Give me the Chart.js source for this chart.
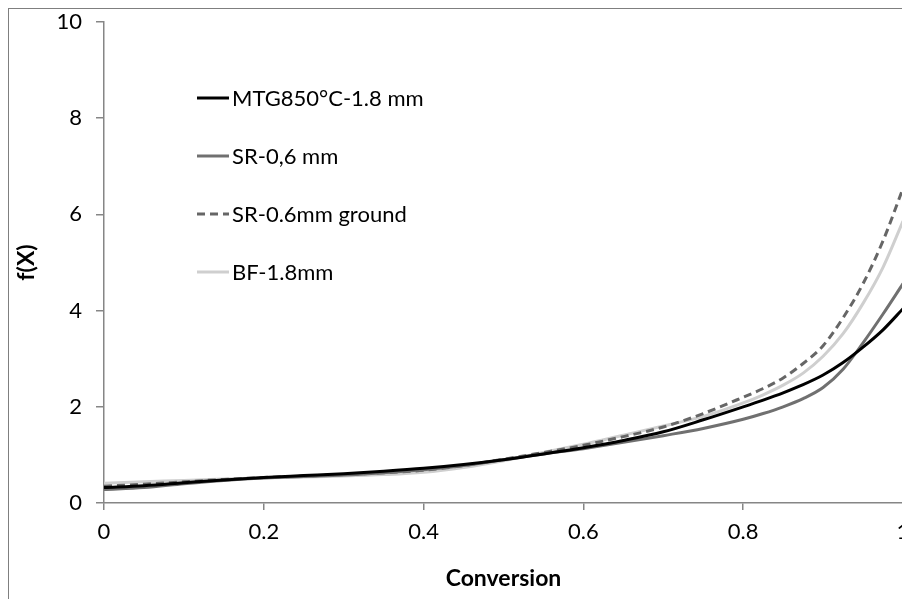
<!DOCTYPE html>
<html>
<head>
<meta charset="utf-8">
<script src="https://cdn.jsdelivr.net/npm/chart.js@4/dist/chart.umd.min.js"></script>
<style>
  html, body { margin: 0; padding: 0; background: #fff; overflow: hidden; width: 902px; height: 599px; }
  #frame { position: absolute; left: 8px; top: 8px; width: 1000px; height: 700px; border: 1px solid #7f7f7f; box-sizing: border-box; }
  #wrap { position: absolute; left: 0; top: 0; width: 940px; height: 599px; }
</style>
</head>
<body>
<div id="frame"></div>
<div id="wrap"><canvas id="chart"></canvas></div>
<script>
const conversion = [0, 0.05, 0.1, 0.15, 0.2, 0.25, 0.3, 0.35, 0.4, 0.45, 0.5, 0.55, 0.6, 0.65, 0.7, 0.75, 0.8, 0.825, 0.85, 0.875, 0.9, 0.925, 0.95, 0.975, 1.0];
const mtg850 = [0.32, 0.36, 0.42, 0.48, 0.53, 0.57, 0.61, 0.66, 0.72, 0.80, 0.90, 1.02, 1.15, 1.30, 1.48, 1.73, 2.00, 2.14, 2.29, 2.46, 2.66, 2.92, 3.24, 3.60, 4.04];
const sr06 = [0.28, 0.32, 0.40, 0.47, 0.52, 0.55, 0.58, 0.63, 0.69, 0.78, 0.90, 1.02, 1.13, 1.26, 1.40, 1.55, 1.74, 1.86, 2.00, 2.17, 2.40, 2.78, 3.33, 3.93, 4.56];
const sr06ground = [0.35, 0.39, 0.44, 0.49, 0.53, 0.56, 0.59, 0.63, 0.68, 0.78, 0.91, 1.05, 1.20, 1.38, 1.58, 1.86, 2.20, 2.38, 2.60, 2.90, 3.27, 3.85, 4.56, 5.45, 6.54];
const bf18 = [0.41, 0.44, 0.47, 0.50, 0.52, 0.54, 0.56, 0.59, 0.64, 0.74, 0.88, 1.05, 1.22, 1.41, 1.60, 1.80, 2.08, 2.25, 2.45, 2.70, 3.05, 3.52, 4.15, 4.90, 5.86];

const seriesNames = ["MTG850°C-1.8 mm", "SR-0,6 mm", "SR-0.6mm ground", "BF-1.8mm"];
const xTicks = [0, 0.2, 0.4, 0.6, 0.8, 1];
const yTicks = [0, 2, 4, 6, 8, 10];

const FONT = "Lato, 'Open Sans', sans-serif";
const toPoints = ys => conversion.map((x, i) => ({ x: x, y: ys[i] }));

const series = [
  { label: seriesNames[0], data: toPoints(mtg850), borderColor: "#000000", borderDash: [] },
  { label: seriesNames[1], data: toPoints(sr06), borderColor: "#707070", borderDash: [] },
  { label: seriesNames[2], data: toPoints(sr06ground), borderColor: "#666666", borderDash: [8, 5] },
  { label: seriesNames[3], data: toPoints(bf18), borderColor: "#cfcfcf", borderDash: [] }
];

// legend drawn inside the plot, stacked
const innerLegend = {
  id: "innerLegend",
  afterDraw(chart) {
    const ctx = chart.ctx;
    const x0 = chart.chartArea.left + 93;
    ctx.save();
    ctx.font = "22px " + FONT;
    ctx.textBaseline = "middle";
    ctx.fillStyle = "#000";
    chart.data.datasets.forEach((ds, i) => {
      const y = 98 + i * 58;
      ctx.beginPath();
      ctx.strokeStyle = ds.borderColor;
      ctx.lineWidth = 3;
      ctx.setLineDash(ds.borderDash);
      ctx.moveTo(x0, y);
      ctx.lineTo(x0 + 32, y);
      ctx.stroke();
      ctx.setLineDash([]);
      ctx.fillText(ds.label, x0 + 35, y + 1);
    });
    ctx.restore();
  }
};

new Chart(document.getElementById("chart"), {
  type: "line",
  data: {
    datasets: series.map(s => ({
      label: s.label,
      data: s.data,
      borderColor: s.borderColor,
      borderDash: s.borderDash,
      borderWidth: 3,
      pointRadius: 0,
      cubicInterpolationMode: "monotone",
      fill: false
    }))
  },
  options: {
    responsive: true,
    maintainAspectRatio: false,
    animation: false,
    layout: { padding: { left: 0, top: 22, right: 37, bottom: 0 } },
    plugins: { legend: { display: false }, tooltip: { enabled: false } },
    scales: {
      x: {
        type: "linear",
        min: 0,
        max: 1,
        afterBuildTicks: s => { s.ticks = xTicks.map(v => ({ value: v })); },
        afterFit: s => { s.height = 96; },
        border: { color: "#868686", width: 1.5 },
        grid: { drawOnChartArea: false, drawTicks: true, tickLength: 7, color: "#868686", lineWidth: 1.5 },
        ticks: { color: "#000", font: { family: FONT, size: 22 }, padding: 9, maxRotation: 0,
                 callback: v => String(v) },
        title: { display: true, text: "Conversion", color: "#000",
                 font: { family: FONT, size: 23, weight: "bold" }, padding: { bottom: 7 } }
      },
      y: {
        type: "linear",
        min: 0,
        max: 10,
        afterBuildTicks: s => { s.ticks = yTicks.map(v => ({ value: v })); },
        afterFit: s => { s.width = 104; s.paddingTop = 0; s.paddingBottom = 0; },
        border: { color: "#868686", width: 1.5 },
        grid: { drawOnChartArea: false, drawTicks: true, tickLength: 8, color: "#868686", lineWidth: 1.5 },
        ticks: { color: "#000", font: { family: FONT, size: 22 }, padding: 14 },
        title: { display: true, text: "f(X)", color: "#000",
                 font: { family: FONT, size: 23, weight: "bold" }, padding: { top: 13 } }
      }
    }
  },
  plugins: [innerLegend]
});
</script>
</body>
</html>
